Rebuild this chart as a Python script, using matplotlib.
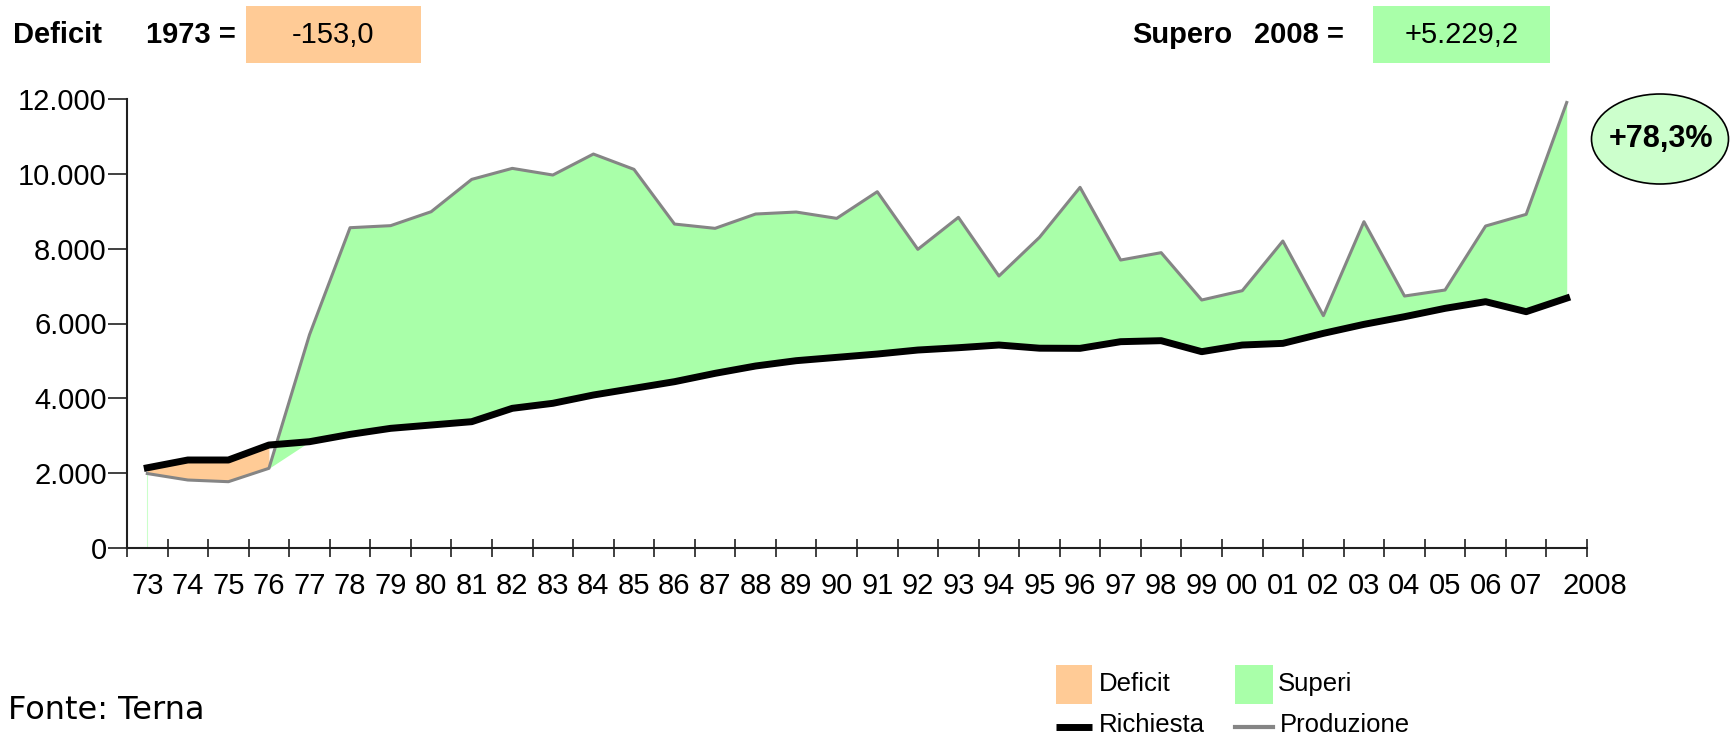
import numpy as np
import matplotlib
matplotlib.use('Agg')
import matplotlib.pyplot as plt
from matplotlib import font_manager, patches, lines
from matplotlib.ticker import FixedLocator, FuncFormatter, NullFormatter

# ---------------- data ----------------
anni = ['73', '74', '75', '76', '77', '78', '79', '80', '81', '82', '83', '84',
        '85', '86', '87', '88', '89', '90', '91', '92', '93', '94', '95', '96',
        '97', '98', '99', '00', '01', '02', '03', '04', '05', '06', '07', '2008']
produzione = [1990, 1817, 1772, 2130, 5700, 8560, 8615, 8988, 9852, 10146, 9968, 10529,
              10120, 8658, 8543, 8926, 8979, 8810, 9522, 7982, 8837, 7269, 8303, 9639,
              7696, 7893, 6628, 6877, 8204, 6209, 8721, 6734, 6895, 8605, 8917, 11907]
richiesta = [2143, 2352, 2352, 2752, 2841, 3037, 3198, 3287, 3376, 3733, 3867, 4089,
             4267, 4445, 4668, 4864, 5006, 5095, 5184, 5291, 5353, 5425, 5340, 5336,
             5514, 5541, 5247, 5425, 5469, 5737, 5977, 6182, 6405, 6583, 6316, 6678]
yticks = [0, 2000, 4000, 6000, 8000, 10000, 12000]
deficit_label = 'Deficit'
deficit_anno = '1973 ='
deficit_val = '-153,0'
supero_label = 'Supero'
supero_anno = '2008 ='
supero_val = '+5.229,2'
variazione = '+78,3%'
legenda = ['Deficit', 'Superi', 'Richiesta', 'Produzione']
fonte = 'Fonte: Terna'

GREEN = '#A9FFA9'
ORANGE = '#FFCB96'
LIGHTGREEN = '#CCFFCC'
GRAY = '#858585'

names = {f.name for f in font_manager.fontManager.ttflist}
SANS = 'Liberation Sans'
if 'Liberation Sans Narrow' in names:
    NARROW, NARROW_SIZE = 'Liberation Sans Narrow', 24
else:
    NARROW, NARROW_SIZE = 'Liberation Sans', 21

W, H = 1736, 738
fig = plt.figure(figsize=(W / 100, H / 100), dpi=100)


def fx(px):
    return px / W


def fy(py):
    return 1 - py / H


ax = fig.add_axes([fx(127), fy(548), fx(1587) - fx(127), fy(99) - fy(548)])
x = np.arange(len(anni)) + 0.5
prod = np.array(produzione, dtype=float)
rich = np.array(richiesta, dtype=float)
lower = np.minimum(prod, rich)

ax.fill_between(x, lower, prod, color=GREEN, lw=0, zorder=1)
idx = np.where(prod < rich)[0]
ax.fill_between(x[idx], prod[idx], rich[idx], color=ORANGE, lw=0, zorder=2)
ax.plot([x[0], x[0]], [0, prod[0]], color=GREEN, lw=0.8, alpha=0.6, zorder=1)
ax.plot(x, prod, color=GRAY, lw=2.2, zorder=3)
ax.plot(x, rich, color='black', lw=5, zorder=4)

ax.set_xlim(0, len(anni))
ax.set_ylim(0, 12000)
for s in ['top', 'right']:
    ax.spines[s].set_visible(False)
for s in ['left', 'bottom']:
    ax.spines[s].set_linewidth(1.5)
    ax.spines[s].set_color('#202020')

ax.xaxis.set_major_locator(FixedLocator(np.arange(len(anni) + 1)))
ax.xaxis.set_major_formatter(NullFormatter())
ax.set_xticks(x, anni[:-1] + [''], minor=True)
ax.tick_params(axis='x', which='major', direction='inout', length=13, width=1.2,
               color='#202020')
ax.tick_params(axis='x', which='minor', length=0, pad=17)
for lab in ax.get_xticklabels(minor=True):
    lab.set_fontfamily(NARROW)
    lab.set_fontsize(NARROW_SIZE)
ax.annotate(anni[-1], xy=(x[-1], 0), xycoords=('data', 'axes fraction'),
            xytext=(28, -24), textcoords='offset pixels', ha='center', va='top',
            fontfamily=NARROW, fontsize=NARROW_SIZE)

ax.set_yticks(yticks)
ax.yaxis.set_major_formatter(FuncFormatter(lambda v, p: f"{int(v):,}".replace(',', '.')))
ax.tick_params(axis='y', direction='out', length=14, width=1.2, pad=0.5, labelsize=21,
               color='#202020')
for lab in ax.get_yticklabels():
    lab.set_fontfamily(SANS)

# ---------------- header ----------------
fig.add_artist(patches.Rectangle((fx(246), fy(63)), fx(421) - fx(246), fy(6) - fy(63),
                                 transform=fig.transFigure, color=ORANGE, lw=0))
fig.add_artist(patches.Rectangle((fx(1373), fy(63)), fx(1550) - fx(1373), fy(6) - fy(63),
                                 transform=fig.transFigure, color=GREEN, lw=0))
hdr = dict(fontfamily=SANS, fontsize=21, va='center')
fig.text(fx(13), fy(35), deficit_label, fontweight='bold', **hdr)
fig.text(fx(146), fy(35), deficit_anno, fontweight='bold', **hdr)
fig.text(fx(333), fy(35), deficit_val, ha='center', **hdr)
fig.text(fx(1132), fy(35), supero_label, fontweight='bold', **hdr)
fig.text(fx(1254), fy(35), supero_anno, fontweight='bold', **hdr)
fig.text(fx(1462), fy(35), supero_val, ha='center', **hdr)

# ---------------- ellipse ----------------
fig.add_artist(patches.Ellipse((fx(1660), fy(139)), 137 / W, 90 / H,
                               transform=fig.transFigure, facecolor=LIGHTGREEN,
                               edgecolor='black', lw=1.2))
fig.text(fx(1661), fy(139), variazione, ha='center', va='center', fontfamily=SANS,
         fontsize=22, fontweight='bold')

# ---------------- legend ----------------
fig.add_artist(patches.Rectangle((fx(1056), fy(704)), fx(1092) - fx(1056), fy(665) - fy(704),
                                 transform=fig.transFigure, color=ORANGE, lw=0))
fig.add_artist(patches.Rectangle((fx(1235), fy(704)), fx(1273) - fx(1235), fy(665) - fy(704),
                                 transform=fig.transFigure, color=GREEN, lw=0))
fig.add_artist(lines.Line2D([fx(1056), fx(1092)], [fy(727), fy(727)],
                            transform=fig.transFigure, color='black', lw=5,
                            solid_capstyle='butt'))
fig.add_artist(lines.Line2D([fx(1235), fx(1273)], [fy(727), fy(727)],
                            transform=fig.transFigure, color=GRAY, lw=3))
leg = dict(fontfamily=SANS, fontsize=18.5, va='baseline')
fig.text(fx(1099), fy(691), legenda[0], **leg)
fig.text(fx(1278), fy(691), legenda[1], **leg)
fig.text(fx(1099), fy(732), legenda[2], **leg)
fig.text(fx(1280), fy(732), legenda[3], **leg)

fig.text(fx(8), fy(719), fonte, fontfamily='DejaVu Sans', fontsize=23, va='baseline')

fig.savefig('out.png', dpi=100)
